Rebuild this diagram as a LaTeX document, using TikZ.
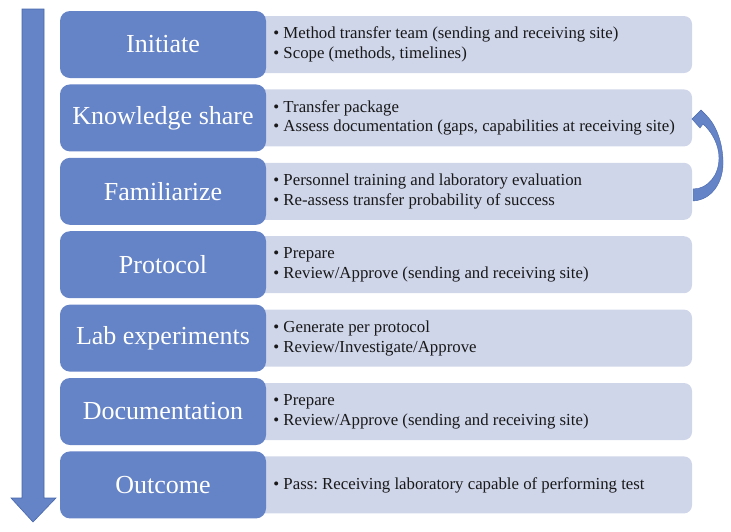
\documentclass[tikz,border=0pt]{standalone}
\usepackage{fontspec}
\setmainfont{Liberation Serif}
\frenchspacing
\definecolor{stageblue}{RGB}{101,131,199}
\definecolor{detailgrey}{RGB}{207,214,234}
\definecolor{arrowline}{RGB}{72,104,172}
\begin{document}
\begin{tikzpicture}[
					x = 1pt, y = -1pt,
					stage/.style = {fill=stageblue, rounded corners=10pt, minimum width=206pt, minimum height=67pt,
						inner sep=0pt, text=white, font=\fontsize{26}{30}\selectfont},
					detail/.style = {fill=detailgrey, rounded corners=8pt, minimum width=442pt, minimum height=57pt, inner sep=0pt},
					bullets/.style = {anchor=west, align=left, inner sep=0pt, text=black!90, font=\fontsize{16.8}{19.8}\selectfont}]
					\def\b{\textbullet\ }

					\useasboundingbox (0,0) rectangle (731,531);

					\draw[fill=stageblue,draw=arrowline,line width=0.6pt] (22,9) -- (44,9) -- (44,498) -- (56,498) -- (33,522) -- (11,498) -- (22,498) -- cycle;

					\node[detail] (d1) at (471,44.5) {};
					\node[detail] (d2) at (471,117.9) {};
					\node[detail] (d3) at (471,191.3) {};
					\node[detail] (d4) at (471,264.7) {};
					\node[detail] (d5) at (471,338.1) {};
					\node[detail] (d6) at (471,411.5) {};
					\node[detail] (d7) at (471,484.9) {};

					\node[stage] (s1) at (163,44.5) {Initiate};
					\node[stage] (s2) at (163,117.9) {Knowledge share};
					\node[stage] (s3) at (163,191.3) {Familiarize};
					\node[stage] (s4) at (163,264.7) {Protocol};
					\node[stage] (s5) at (163,338.1) {Lab experiments};
					\node[stage] (s6) at (163,411.5) {Documentation};
					\node[stage] (s7) at (163,484.9) {Outcome};

					\node[bullets] (t1) at ([xshift=7pt]s1.east) {\b Method transfer team (sending and receiving site)\\\b Scope (methods, timelines)};
					\node[bullets] (t2) at ([xshift=7pt]s2.east) {\b Transfer package\\\b Assess documentation (gaps, capabilities at receiving site)};
					\node[bullets] (t3) at ([xshift=7pt]s3.east) {\b Personnel training and laboratory evaluation\\\b Re-assess transfer probability of success};
					\node[bullets] (t4) at ([xshift=7pt]s4.east) {\b Prepare\\\b Review/Approve (sending and receiving site)};
					\node[bullets] (t5) at ([xshift=7pt]s5.east) {\b Generate per protocol\\\b Review/Investigate/Approve};
					\node[bullets] (t6) at ([xshift=7pt]s6.east) {\b Prepare\\\b Review/Approve (sending and receiving site)};
					\node[bullets] (t7) at ([xshift=7pt]s7.east) {\b Pass: Receiving laboratory capable of performing test};

					% loop back from Familiarize to Knowledge share
					\draw[fill=stageblue,draw=arrowline,line width=0.4pt] (693,201) .. controls (712,200) and (724,182) .. (723,160)
						.. controls (722,138) and (714,122) .. (705,114) -- (701,110) -- (692,119) -- (700,128) -- (703,124)
						.. controls (712,132) and (719,145) .. (719,158) .. controls (719,175) and (708,189) .. (693,189) -- cycle;

				\end{tikzpicture}
\end{document}
